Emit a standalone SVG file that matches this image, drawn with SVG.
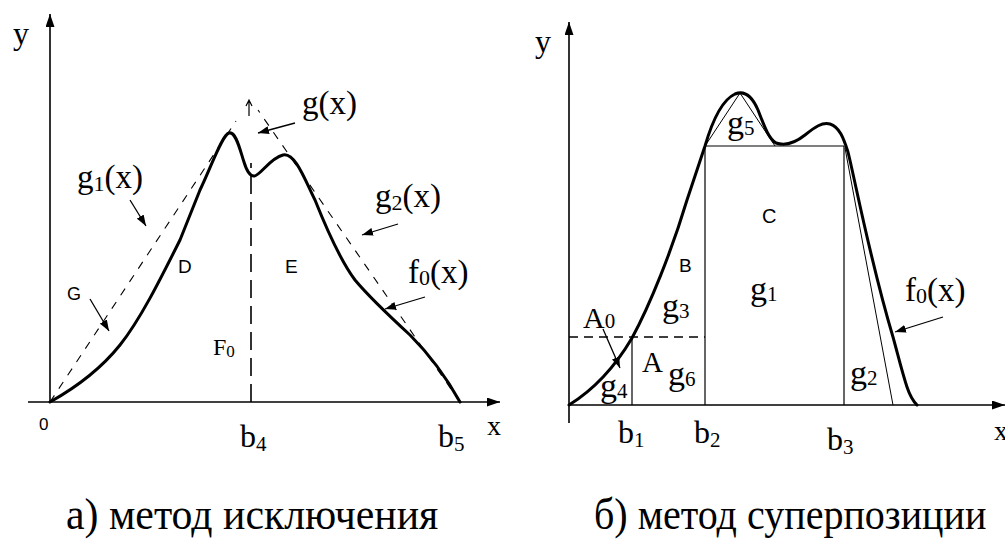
<svg xmlns="http://www.w3.org/2000/svg" width="1005" height="541" viewBox="0 0 1005 541">
<style>
.axis{stroke:#000;stroke-width:1.6;fill:none}
.curve{stroke:#000;stroke-width:3;fill:none;stroke-linejoin:round;stroke-linecap:round}
.thin{stroke:#000;stroke-width:1.2;fill:none}
.dash{stroke:#000;stroke-width:1.1;fill:none;stroke-dasharray:8 8}
.vdash{stroke:#000;stroke-width:1.6;fill:none;stroke-dasharray:18 8}
.ptr{stroke:#000;stroke-width:1.3;fill:none;marker-end:url(#ah)}
</style>
<defs>
<marker id="ah" markerUnits="userSpaceOnUse" markerWidth="11" markerHeight="8" refX="11" refY="4" orient="auto"><path d="M0,0 L11,4 L0,8 z" fill="#000"/></marker>
<marker id="ax" markerUnits="userSpaceOnUse" markerWidth="13" markerHeight="9" refX="13" refY="4.5" orient="auto"><path d="M0,0 L13,4.5 L0,9 z" fill="#000"/></marker>
</defs>
<rect width="1005" height="541" fill="#fff"/>

<g id="connectors">
<line class="axis" x1="28" y1="402" x2="500" y2="402" marker-end="url(#ax)"/>
<line class="axis" x1="50" y1="402" x2="50" y2="14" marker-end="url(#ax)"/>
<line class="axis" x1="569" y1="405" x2="1005" y2="405" marker-end="url(#ax)"/>
<line class="axis" x1="569" y1="423" x2="569" y2="22" marker-end="url(#ax)"/>
<line class="ptr" x1="295" y1="123" x2="258" y2="133"/>
<line class="ptr" x1="130" y1="200" x2="146" y2="226"/>
<line class="ptr" x1="398" y1="224" x2="362" y2="235"/>
<line class="ptr" x1="425" y1="297" x2="385" y2="309"/>
<line class="ptr" x1="90" y1="299" x2="109" y2="331"/>
<line class="ptr" x1="603" y1="329" x2="620" y2="368"/>
<line class="ptr" x1="943" y1="317" x2="895" y2="332"/>
</g>

<g id="left-diagram">
<line class="dash" x1="50" y1="402" x2="236" y2="121"/>
<line class="dash" x1="460" y1="402" x2="258" y2="110"/>
<line class="vdash" x1="251" y1="402" x2="251" y2="163"/>
<path class="thin" d="M249,116 V101 M246,106 L249,100 L252,106"/>
<path class="curve" d="M50,402 C75,388 100,370 120,345 C140,320 160,280 180,240 L200,190 C212,165 222,135 229,133 C236,131 240,150 244,162 C247,172 250,176 254,176 C260,176 270,158 283,155 C295,152 305,180 315,200 C325,225 340,260 355,280 C370,298 385,312 410,335 C430,355 445,375 460,402"/>
</g>

<g id="left-labels">
<text x="13" y="44" font-size="32" font-family="Liberation Serif">y</text>
<text x="302" y="114" font-size="33" font-family="Liberation Serif">g(x)</text>
<text x="77" y="188" font-size="33" font-family="Liberation Serif">g<tspan font-size="22" dy="3">1</tspan><tspan dy="-3">(x)</tspan></text>
<text x="375" y="207" font-size="33" font-family="Liberation Serif">g<tspan font-size="22" dy="3">2</tspan><tspan dy="-3">(x)</tspan></text>
<text x="408" y="283" font-size="33" font-family="Liberation Serif">f<tspan font-size="22" dy="2">0</tspan><tspan dy="-2">(x)</tspan></text>
<text x="213" y="355" font-size="24" font-family="Liberation Serif">F<tspan font-size="17" dy="2">0</tspan></text>
<text x="240" y="447" font-size="32" font-family="Liberation Serif">b<tspan font-size="21" dy="4">4</tspan></text>
<text x="438" y="447" font-size="32" font-family="Liberation Serif">b<tspan font-size="21" dy="4">5</tspan></text>
<text x="487" y="435" font-size="28" font-family="Liberation Serif">x</text>
<text x="67" y="300" font-size="18" font-family="Liberation Sans">G</text>
<text x="178" y="273" font-size="19" font-family="Liberation Sans">D</text>
<text x="285" y="273" font-size="19" font-family="Liberation Sans">E</text>
<text x="39" y="430" font-size="17" font-family="Liberation Sans">0</text>
</g>

<g id="right-diagram">
<line class="thin" x1="705" y1="146" x2="844" y2="146"/>
<line class="thin" x1="705" y1="146" x2="705" y2="405"/>
<line class="thin" x1="844" y1="146" x2="844" y2="405"/>
<line class="thin" x1="632" y1="338" x2="632" y2="405"/>
<line class="dash" x1="569" y1="337" x2="705" y2="337" style="stroke-width:1.3;stroke-dasharray:9 6"/>
<path class="thin" d="M705,146 L740,93 L775,146" style="stroke-width:1"/>
<line class="thin" x1="845" y1="148" x2="893" y2="405" style="stroke-width:1"/>
<path class="curve" d="M569,405 C590,392 612,372 632,338 C650,305 672,250 687,200 L705,146 C712,122 722,100 735,94 C745,90 752,96 758,110 C764,125 768,138 776,143 C785,146 795,143 805,135 C815,127 822,122 830,124 C840,127 844,140 848,152 C855,180 870,260 893,337 C898,355 902,372 907,387 C910,396 914,402 917,405"/>
</g>

<g id="right-labels">
<text x="535" y="52" font-size="32" font-family="Liberation Serif">y</text>
<text x="727" y="134" font-size="34" font-family="Liberation Serif">g<tspan font-size="21" dy="1">5</tspan></text>
<text x="750" y="300" font-size="34" font-family="Liberation Serif">g<tspan font-size="21" dy="1">1</tspan></text>
<text x="662" y="317" font-size="34" font-family="Liberation Serif">g<tspan font-size="21" dy="1">3</tspan></text>
<text x="583" y="328" font-size="30" font-family="Liberation Serif">A<tspan font-size="21">0</tspan></text>
<text x="642" y="372" font-size="29" font-family="Liberation Serif">A</text>
<text x="668" y="385" font-size="34" font-family="Liberation Serif">g<tspan font-size="21" dy="1">6</tspan></text>
<text x="600" y="397" font-size="34" font-family="Liberation Serif">g<tspan font-size="21" dy="1">4</tspan></text>
<text x="850" y="384" font-size="34" font-family="Liberation Serif">g<tspan font-size="21" dy="1">2</tspan></text>
<text x="905" y="301" font-size="33" font-family="Liberation Serif">f<tspan font-size="22" dy="2">0</tspan><tspan dy="-2">(x)</tspan></text>
<text x="618" y="443" font-size="32" font-family="Liberation Serif">b<tspan font-size="21" dy="4">1</tspan></text>
<text x="694" y="443" font-size="32" font-family="Liberation Serif">b<tspan font-size="21" dy="4">2</tspan></text>
<text x="827" y="450" font-size="32" font-family="Liberation Serif">b<tspan font-size="21" dy="4">3</tspan></text>
<text x="994" y="440" font-size="28" font-family="Liberation Serif">x</text>
<text x="762" y="223" font-size="20" font-family="Liberation Sans">C</text>
<text x="679" y="272" font-size="19" font-family="Liberation Sans">B</text>
</g>

<g id="captions">
<text transform="translate(66,529) scale(0.95,1)" font-size="44" font-family="Liberation Serif">а) метод исключения</text>
<text transform="translate(594,529) scale(0.91,1)" font-size="44" font-family="Liberation Serif">б) метод суперпозиции</text>
</g>
</svg>
